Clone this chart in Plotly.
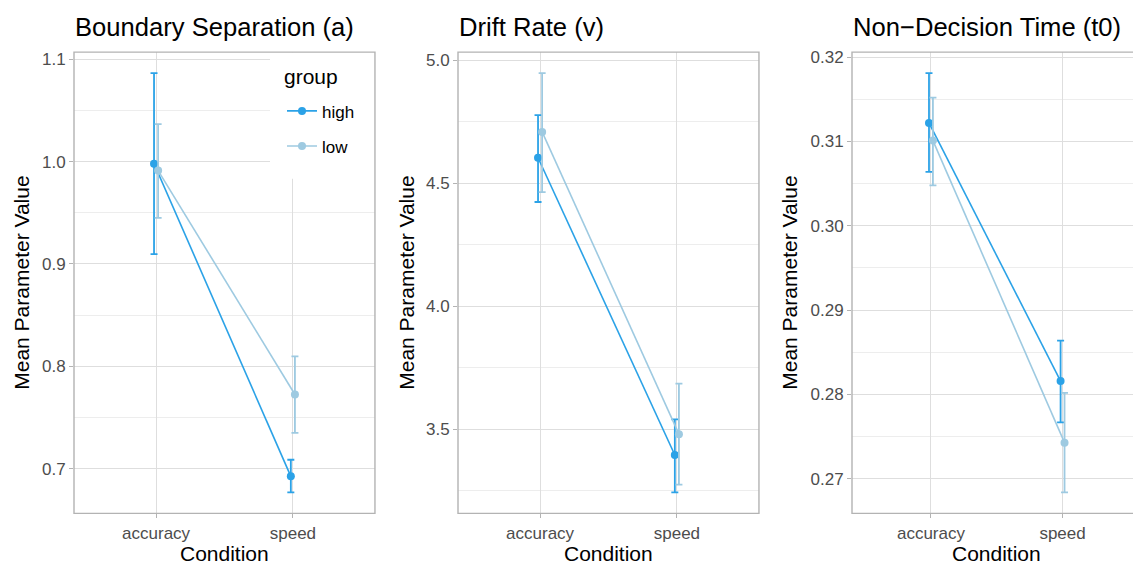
import plotly.graph_objects as go

W, H = 1133, 565

conditions = ["accuracy", "speed"]
groups = ["high", "low"]

# Boundary separation (a)
a_high_mean = [0.998, 0.6925]
a_high_lo = [0.9097, 0.6768]
a_high_hi = [1.0865, 0.7087]
a_low_mean = [0.9913, 0.7725]
a_low_lo = [0.945, 0.735]
a_low_hi = [1.0367, 0.8097]

# Drift rate (v)
v_high_mean = [4.604, 3.395]
v_high_lo = [4.424, 3.243]
v_high_hi = [4.777, 3.540]
v_low_mean = [4.709, 3.480]
v_low_lo = [4.464, 3.275]
v_low_hi = [4.948, 3.685]

# Non-decision time (t0)
t_high_mean = [0.3122, 0.2816]
t_high_lo = [0.3064, 0.2767]
t_high_hi = [0.3181, 0.2864]
t_low_mean = [0.3101, 0.2743]
t_low_lo = [0.3048, 0.2684]
t_low_hi = [0.3152, 0.2802]

titles = ["Boundary Separation (a)", "Drift Rate (v)", "Non\u2212Decision Time (t0)"]
y_dticks = [0.1, 0.5, 0.01]
y_formats = [".1f", ".1f", ".2f"]

colors = {"high": "#2BA2E7", "low": "#9ECAE1"}
dodge = {"high": -0.015, "low": 0.015}
FONT = "Liberation Sans, Arial, sans-serif"

panels = [
    {"high": (a_high_mean, a_high_lo, a_high_hi), "low": (a_low_mean, a_low_lo, a_low_hi)},
    {"high": (v_high_mean, v_high_lo, v_high_hi), "low": (v_low_mean, v_low_lo, v_low_hi)},
    {"high": (t_high_mean, t_high_lo, t_high_hi), "low": (t_low_mean, t_low_lo, t_low_hi)},
]

# panel geometry in pixels
px_left = [74, 458, 852]
px_unit = [136.8, 136.8, 131.6]
ytitle_offset = [52, 51, 62]
top_px, bot_px = 48.5, 513

fig = go.Figure()
shapes = []
annotations = []
yranges = []
xranges = []

for i, pdata in enumerate(panels):
    ax = "" if i == 0 else str(i + 1)
    xref, yref = "x" + ax, "y" + ax
    for g in groups:
        mean, lo, hi = pdata[g]
        xs = [k + 1 + dodge[g] for k in range(len(conditions))]
        fig.add_trace(go.Scatter(
            x=xs, y=mean, mode="lines+markers", name=g,
            legendgroup=g, showlegend=(i == 0),
            line=dict(color=colors[g], width=1.6),
            marker=dict(color=colors[g], size=8),
            error_y=dict(type="data", symmetric=False,
                         array=[h - m for h, m in zip(hi, mean)],
                         arrayminus=[m - l for m, l in zip(mean, lo)],
                         color=colors[g], thickness=1.8, width=3.5),
            xaxis=xref, yaxis=yref,
        ))
    allv = []
    for g in groups:
        allv += pdata[g][1] + pdata[g][2]
    vmin, vmax = min(allv), max(allv)
    span = vmax - vmin
    yr = [vmin - 0.05 * span, vmax + 0.05 * span]
    yranges.append(yr)

    left = px_left[i]
    right = min(left + 2.2 * px_unit[i], W)
    xr_end = 0.4 + (right - left) / px_unit[i]
    xranges.append([0.4, xr_end])
    dom_x = [left / W, right / W]
    dom_y = [1 - bot_px / H, 1 - top_px / H]

    fig.layout["xaxis" + ax] = dict(
        domain=dom_x, range=[0.4, xr_end], anchor=yref,
        tickvals=[1, 2], ticktext=conditions,
        showgrid=True, gridcolor="#DEDEDE", gridwidth=1,
        zeroline=False, showline=False,
        ticks="outside", ticklen=4, tickcolor="#B3B3B3", tickwidth=1.2,
        tickfont=dict(family=FONT, size=17, color="#4D4D4D"),
    )
    fig.layout["yaxis" + ax] = dict(
        domain=dom_y, range=yr, anchor=xref,
        dtick=y_dticks[i], tick0=0, tickformat=y_formats[i],
        showgrid=True, gridcolor="#DEDEDE", gridwidth=1,
        minor=dict(dtick=y_dticks[i] / 2, tick0=0, showgrid=True,
                   gridcolor="#EDEDED", gridwidth=1, ticks=""),
        zeroline=False, showline=False,
        ticks="outside", ticklen=4, tickcolor="#B3B3B3", tickwidth=1.2,
        tickfont=dict(family=FONT, size=17, color="#4D4D4D"),
    )
    full_right = left + 2.2 * px_unit[i]
    shapes.append(dict(type="rect", xref="paper", yref="paper",
                       x0=left / W, x1=full_right / W, y0=dom_y[0], y1=dom_y[1],
                       line=dict(color="#B3B3B3", width=1.4), layer="above"))
    annotations.append(dict(text=titles[i], xref="paper", yref="paper",
                            x=(left - 1) / W, y=1 - 23 / H, xanchor="left", yanchor="middle",
                            showarrow=False, font=dict(family=FONT, size=25.6, color="black")))
    annotations.append(dict(text="Mean Parameter Value", xref="paper", yref="paper",
                            x=(left - ytitle_offset[i]) / W, y=1 - ((top_px + bot_px) / 2) / H,
                            xanchor="center", yanchor="middle", textangle=-90,
                            showarrow=False, font=dict(family=FONT, size=21, color="black")))
    annotations.append(dict(text="Condition", xref="paper", yref="paper",
                            x=(left + full_right) / 2 / W, y=1 - 553 / H,
                            xanchor="center", yanchor="middle",
                            showarrow=False, font=dict(family=FONT, size=21, color="black")))

# legend background box inside panel 1 (covers gridlines, below traces)
def px_to_x0(px):
    return 0.4 + (px - px_left[0]) / px_unit[0]

def px_to_y0(py):
    yr = yranges[0]
    return yr[0] + (bot_px - py) / (bot_px - top_px) * (yr[1] - yr[0])

shapes.append(dict(type="rect", xref="x", yref="y", layer="between",
                   x0=px_to_x0(270), x1=xranges[0][1] + 0.1,
                   y0=px_to_y0(176), y1=yranges[0][1] + 0.05,
                   fillcolor="white", line=dict(width=0)))
annotations.append(dict(text="group", xref="paper", yref="paper",
                        x=282 / W, y=1 - 73 / H, xanchor="left", yanchor="middle",
                        showarrow=False, font=dict(family=FONT, size=21, color="black")))

fig.update_layout(
    width=W, height=H, margin=dict(l=0, r=0, t=0, b=0),
    paper_bgcolor="white", plot_bgcolor="white",
    shapes=shapes, annotations=annotations,
    legend=dict(x=282 / W, y=1 - 90 / H, xanchor="left", yanchor="top",
                bgcolor="rgba(0,0,0,0)", borderwidth=0,
                font=dict(family=FONT, size=17, color="black"),
                traceorder="grouped", tracegroupgap=10, itemwidth=30),
)

fig.write_html("out.html")
